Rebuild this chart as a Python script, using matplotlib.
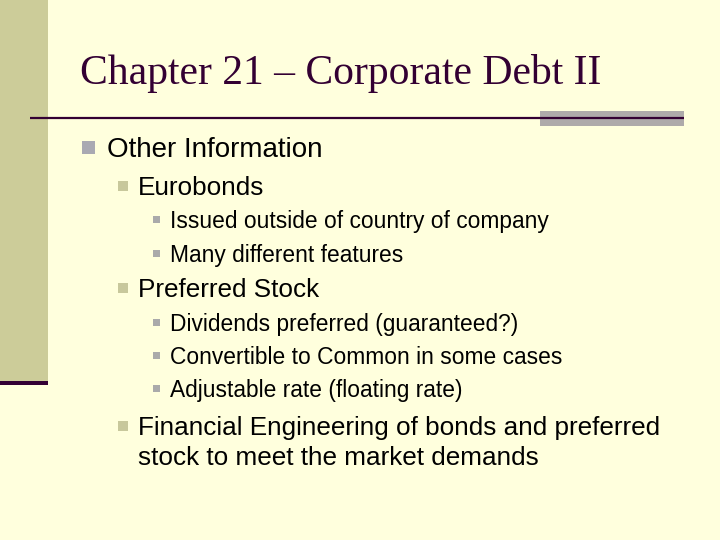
import matplotlib
matplotlib.use("Agg")
import matplotlib.pyplot as plt
from matplotlib.patches import Rectangle

title = "Chapter 21 \u2013 Corporate Debt II"
item_texts = [
    "Other Information",
    "Eurobonds",
    "Issued outside of country of company",
    "Many different features",
    "Preferred Stock",
    "Dividends preferred (guaranteed?)",
    "Convertible to Common in some cases",
    "Adjustable rate (floating rate)",
    "Financial Engineering of bonds and preferred\nstock to meet the market demands",
]
item_levels = [1, 2, 3, 3, 2, 3, 3, 3, 2]
item_baselines = [157, 195, 228, 262, 297, 331, 364, 397, 435]

BG = "#FFFFDD"
PURPLE = "#330033"
BAND = "#CCCC99"

fig = plt.figure(figsize=(7.2, 5.4), dpi=100)
fig.patch.set_facecolor(BG)
ax = fig.add_axes([0, 0, 1, 1])
ax.set_xlim(0, 720)
ax.set_ylim(540, 0)
ax.axis("off")
ax.set_facecolor(BG)

# left band
ax.add_patch(Rectangle((0, 0), 48, 381, facecolor=BAND, edgecolor="none"))
ax.add_patch(Rectangle((0, 381), 48, 4, facecolor=PURPLE, edgecolor="none"))

# title rule
ax.add_patch(Rectangle((540, 111), 144, 15, facecolor="#AEAAAA", edgecolor="none"))
ax.plot([30, 684], [117.5, 117.5], color=PURPLE, lw=1.6, solid_capstyle="butt")

ax.text(80, 84, title, fontsize=30, family="Liberation Serif", color=PURPLE,
        va="baseline", ha="left")

styles = {
    1: dict(bx=82, bs=13, bc="#A9A9B2", tx=107, fs=20),
    2: dict(bx=118, bs=10, bc="#C8C89C", tx=138, fs=18.8),
    3: dict(bx=153, bs=7, bc="#AAAAAA", tx=170, fs=16.4),
}
line_gap = 30

for txt, lvl, yb in zip(item_texts, item_levels, item_baselines):
    s = styles[lvl]
    cap = s["fs"] * 100 / 72 * 0.72
    cy = yb - cap / 2
    ax.add_patch(Rectangle((s["bx"], cy - s["bs"] / 2), s["bs"], s["bs"],
                           facecolor=s["bc"], edgecolor="none"))
    for i, line in enumerate(txt.split("\n")):
        ax.text(s["tx"], yb + i * line_gap, line, fontsize=s["fs"],
                family="Liberation Sans", color="#000000",
                va="baseline", ha="left")

fig.savefig("out.png", dpi=100, facecolor=BG)
